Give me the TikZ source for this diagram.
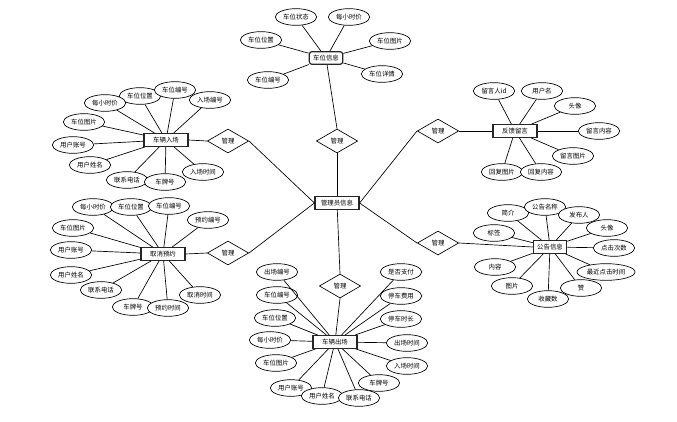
\documentclass[tikz,border=0pt]{standalone}
\usepackage{fontspec}
\setmainfont{Noto Sans CJK SC}
\usetikzlibrary{shapes.geometric}
\tikzset{
  attr/.style={ellipse, draw, fill=white, minimum width=31pt, minimum height=12.5pt, inner xsep=1pt, inner ysep=0.5pt, font=\fontsize{4.8}{5.5}\selectfont, line width=0.5pt},
  ent/.style={rectangle, draw=black!85, fill=white, minimum width=33pt, minimum height=9.5pt, inner sep=1pt, font=\fontsize{4.8}{5.5}\selectfont, line width=0.9pt},
  rel/.style={diamond, draw, fill=white, minimum width=31pt, minimum height=18pt, inner sep=0pt, font=\fontsize{4.8}{5.5}\selectfont, line width=0.5pt},
  lk/.style={line width=0.5pt}
}
\begin{document}
\begin{tikzpicture}[x=0.75pt,y=-0.75pt]
\useasboundingbox (0,0) rectangle (677,421);

% center
\node[ent, minimum width=33pt] (adm) at (337,203) {管理员信息};
\node[rel] (d1) at (337,141) {管理};
\node[rel] (d2) at (228,141) {管理};
\node[rel] (d3) at (228,253) {管理};
\node[rel] (d4) at (438,131) {管理};
\node[rel] (d5) at (438,243) {管理};
\node[rel] (d6) at (340,286) {管理};

% top entity
\node[ent, rounded corners=2pt, minimum width=25pt] (cw) at (326,58) {车位信息};
\node[attr] (cw1) at (296,17) {车位状态};
\node[attr] (cw2) at (349,17) {每小时价};
\node[attr] (cw3) at (261,40) {车位位置};
\node[attr] (cw4) at (390,41) {车位图片};
\node[attr] (cw5) at (382,74) {车位详情};
\node[attr] (cw6) at (268,80) {车位编号};

% left upper entity
\node[ent] (rc) at (166,140) {车辆入场};
\node[attr] (rc2) at (140,96) {车位位置};
\node[attr] (rc1) at (105,103) {每小时价};
\node[attr] (rc3) at (175,90) {车位编号};
\node[attr] (rc4) at (210,100) {入场编号};
\node[attr] (rc5) at (84,122) {车位图片};
\node[attr] (rc6) at (73,145) {用户账号};
\node[attr] (rc7) at (90,165) {用户姓名};
\node[attr] (rc8) at (127,180) {联系电话};
\node[attr] (rc9) at (165,182) {车牌号};
\node[attr] (rc10) at (203,172) {入场时间};

% left lower entity
\node[ent] (qx) at (163,254) {取消预约};
\node[attr] (qx1) at (93,207) {每小时价};
\node[attr] (qx2) at (131,207) {车位位置};
\node[attr] (qx3) at (169,206) {车位编号};
\node[attr] (qx4) at (208,220) {预约编号};
\node[attr] (qx5) at (73,228) {车位图片};
\node[attr] (qx6) at (71,250) {用户账号};
\node[attr] (qx7) at (71,275) {用户姓名};
\node[attr] (qx8) at (101,290) {联系电话};
\node[attr] (qx9) at (133,307) {车牌号};
\node[attr] (qx11) at (200,295) {取消时间};
\node[attr] (qx10) at (168,308) {预约时间};

% bottom entity
\node[ent] (cc) at (335,342) {车辆出场};
\node[attr] (cc1) at (277,272) {出场编号};
\node[attr] (cc2) at (277,295) {车位编号};
\node[attr] (cc3) at (275,318) {车位位置};
\node[attr] (cc4) at (270,340) {每小时价};
\node[attr] (cc5) at (276,363) {车位图片};
\node[attr] (cc6) at (291,388) {用户账号};
\node[attr] (cc7) at (322,396) {用户姓名};
\node[attr] (cc8) at (359,398) {联系电话};
\node[attr] (cc9) at (379,383) {车牌号};
\node[attr] (cc10) at (407,366) {入场时间};
\node[attr] (cc11) at (407,343) {出场时间};
\node[attr] (cc12) at (401,319) {停车时长};
\node[attr] (cc13) at (401,296) {停车费用};
\node[attr] (cc14) at (401,272) {是否支付};

% right upper entity
\node[ent] (ly) at (515,131) {反馈留言};
\node[attr] (ly1) at (494,91) {留言人id};
\node[attr] (ly2) at (542,91) {用户名};
\node[attr] (ly3) at (575,106) {头像};
\node[attr] (ly4) at (599,131) {留言内容};
\node[attr] (ly5) at (573,156) {留言图片};
\node[attr] (ly6) at (502,172) {回复图片};
\node[attr] (ly7) at (541,172) {回复内容};

% right lower entity
\node[ent, minimum width=25pt] (gg) at (550,247) {公告信息};
\node[attr] (gg1) at (508,213) {简介};
\node[attr] (gg2) at (545,207) {公告名称};
\node[attr] (gg3) at (579,215) {发布人};
\node[attr] (gg4) at (607,228) {头像};
\node[attr] (gg5) at (614,248) {点击次数};
\node[attr] (gg6) at (606,272) {最近点击时间};
\node[attr] (gg7) at (581,288) {赞};
\node[attr] (gg8) at (548,299) {收藏数};
\node[attr] (gg9) at (512,286) {图片};
\node[attr] (gg10) at (495,267) {内容};
\node[attr] (gg11) at (494,233) {标签};

% connectors
\draw[lk] (adm) -- (d1.south);
\draw[lk] (d1.north) -- (cw);
\draw[lk] (adm.west) -- (d2.east);
\draw[lk] (d2.west) -- (rc.east);
\draw[lk] (adm.west) -- (d3.east);
\draw[lk] (d3.west) -- (qx.east);
\draw[lk] (adm.east) -- (d4.west);
\draw[lk] (d4.east) -- (ly.west);
\draw[lk] (adm.east) -- (d5.west);
\draw[lk] (d5.east) -- (gg.west);
\draw[lk] (adm) -- (d6.north);
\draw[lk] (d6.south) -- (cc);

\foreach \i in {1,...,6} \draw[lk] (cw) -- (cw\i);
\foreach \i in {1,...,10} \draw[lk] (rc) -- (rc\i);
\foreach \i in {1,...,11} \draw[lk] (qx) -- (qx\i);
\foreach \i in {1,...,14} \draw[lk] (cc) -- (cc\i);
\foreach \i in {1,...,7} \draw[lk] (ly) -- (ly\i);
\foreach \i in {1,...,11} \draw[lk] (gg) -- (gg\i);
\end{tikzpicture}
\end{document}
